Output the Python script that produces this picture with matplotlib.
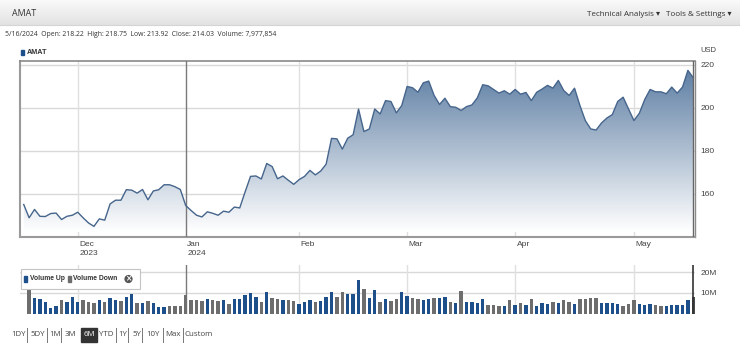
import matplotlib
matplotlib.use('Agg')

import numpy as np
import matplotlib.pyplot as plt
import matplotlib.transforms as mtrans
from matplotlib.colors import LinearSegmentedColormap
from matplotlib.patches import Rectangle, Circle

W, H = 740, 352

# one close per trading day, 11/16/2023 .. 5/16/2024
close = [155.0, 148.8, 152.7, 149.5, 149.4, 150.8, 151.0, 148.0, 149.5, 150.0,
         151.4, 148.8, 146.4, 144.8, 148.3, 147.7, 155.3, 157.0, 157.0, 161.9,
         161.7, 160.3, 162.0, 157.2, 161.3, 161.9, 164.2, 164.2, 163.3, 162.0,
         154.5, 152.2, 150.0, 149.2, 151.6, 150.9, 150.0, 151.9, 151.4, 153.8,
         153.4, 160.9, 168.1, 168.3, 166.9, 174.1, 172.7, 167.0, 168.3, 166.3,
         164.4, 166.6, 168.1, 170.9, 168.8, 170.6, 173.8, 185.8, 185.6, 180.8,
         185.9, 187.5, 199.5, 189.0, 190.2, 199.5, 197.2, 203.4, 203.0, 197.7,
         201.1, 210.0, 209.4, 207.3, 211.7, 212.5, 205.8, 201.6, 204.5, 200.6,
         200.3, 198.8, 200.6, 201.4, 204.7, 210.8, 210.3, 208.6, 206.9, 208.0,
         206.4, 208.6, 206.4, 207.2, 203.4, 207.3, 208.8, 210.5, 209.2, 212.8,
         208.1, 205.8, 209.2, 201.1, 194.1, 190.2, 189.7, 193.0, 195.3, 196.9,
         203.0, 205.0, 199.5, 194.1, 197.5, 203.9, 208.6, 207.5, 207.5, 206.6,
         209.7, 206.9, 209.7, 217.5, 214.0]

# volume in millions, from the 2nd trading day on (first bar not drawn)
volume = [11.8, 7.4, 6.9, 5.7, 2.5, 3.8, 6.6, 5.4, 7.9, 5.4,
          6.6, 5.7, 5.2, 6.4, 5.7, 7.7, 6.4, 6.2, 7.9, 9.2,
          5.2, 5.2, 6.2, 4.9, 3.0, 3.0, 3.8, 3.6, 3.4, 9.0,
          6.7, 6.6, 6.2, 7.2, 6.6, 6.1, 6.4, 4.8, 7.0, 7.2,
          9.0, 9.8, 8.0, 5.7, 10.3, 7.7, 7.2, 6.6, 6.4, 6.2,
          4.8, 5.4, 6.6, 5.6, 5.9, 7.9, 10.3, 7.9, 10.3, 9.5,
          9.2, 16.4, 11.8, 7.7, 11.1, 5.7, 6.9, 5.9, 6.9, 10.3,
          8.5, 7.7, 6.9, 6.4, 7.0, 7.7, 7.4, 8.0, 5.7, 5.2,
          10.7, 5.7, 5.4, 4.9, 6.9, 4.1, 4.1, 3.6, 3.6, 6.6,
          4.1, 4.9, 3.9, 6.9, 3.8, 4.9, 4.6, 5.4, 5.2, 6.6,
          5.4, 4.4, 6.9, 6.9, 7.4, 7.7, 5.2, 5.2, 4.9, 4.6,
          3.6, 4.8, 6.6, 4.4, 4.3, 4.4, 3.9, 3.8, 3.4, 4.1,
          4.1, 3.9, 6.6, 8.0]
# u = volume up, d = volume down
updown = ("duuuuuduuu" "ddduduuduu" "duduuudddd" "dddudduduu"
          "uuududdudd" "uuuduuuddu" "uuduududdu" "udduuduudu"
          "duuuudddud" "ududuuudud" "dudddduuuu" "ddduuudduu" "uuud")

month_idx = [10, 30, 51, 71, 91, 113]
month_lbl = ['Dec\n2023', 'Jan\n2024', 'Feb', 'Mar', 'Apr', 'May']
price_ticks = [160, 180, 200, 220]
vol_ticks = [10, 20]
vol_tick_lbl = ['10M', '20M']
ranges = ['1DY', '5DY', '1M', '3M', '6M', 'YTD', '1Y', '5Y', '10Y', 'Max', 'Custom']
range_x = [18.3, 37.5, 54.8, 70.5, 89.0, 106.3, 122.3, 136.7, 153.3, 172.5, 199.0]
range_sep = [26.7, 47.3, 61.0, 115.7, 128.3, 142.3, 162.7, 183.0]

info = ('5/16/2024  Open: 218.22  High: 218.75  Low: 213.92  '
        'Close: 214.03  Volume: 7,977,854')

UI = ['Open Sans', 'DejaVu Sans']
CH = ['Liberation Sans Narrow', 'Liberation Sans']
BLUE = '#1d4f8a'
GRAY = '#6d6d6d'


def frac(x0, y0, x1, y1):
    return [x0 / W, 1 - y1 / H, (x1 - x0) / W, (y1 - y0) / H]


fig = plt.figure(figsize=(W / 100, H / 100), dpi=100)
fig.patch.set_facecolor('white')

idx = np.arange(len(close))
xlim = (-0.69, 124.31)

# ---- price panel
ax = fig.add_axes(frac(20, 60.7, 695, 236.7))
ax.set_xlim(*xlim)
ax.set_ylim(140, 222)
for v in price_ticks:
    ax.axhline(v, color='#d9d9d9', lw=1, zorder=0)
for m in month_idx:
    if m == 30:
        ax.axvline(m, color='#7a7a7a', lw=1, zorder=3)
    else:
        ax.axvline(m, color='#e0e0e0', lw=1, zorder=0)

poly = ax.fill_between(idx, close, 140, color='none', lw=0)
cmap = LinearSegmentedColormap.from_list('fill', ['#ffffff', '#56789f'])
grad = np.linspace(0, 1, 256).reshape(-1, 1)
img = ax.imshow(grad, extent=[xlim[0], xlim[1], 142, 222], origin='lower',
                aspect='auto', cmap=cmap, zorder=1)
img.set_clip_path(poly.get_paths()[0], transform=ax.transData)
ax.plot(idx, close, color='#46658c', lw=1.0, zorder=4)
ax.axvline(idx[-1], color='#666666', lw=1, zorder=5)

for side, c, w in [('top', '#8a8a8a', 1.2), ('left', '#9a9a9a', 1.5),
                   ('bottom', '#9a9a9a', 1.5), ('right', '#8a8a8a', 1.0)]:
    ax.spines[side].set_color(c)
    ax.spines[side].set_linewidth(w)

ax.yaxis.tick_right()
ax.set_yticks(price_ticks)
ax.tick_params(axis='y', length=0, pad=4, labelsize=6, labelcolor='#444444')
ax.set_xticks(month_idx)
ax.set_xticklabels(month_lbl)
ax.tick_params(axis='x', length=0, pad=2.8, labelsize=6, labelcolor='#444444')
shift = mtrans.ScaledTranslation(1.5 / 100, 0, fig.dpi_scale_trans)
for lab in ax.get_xticklabels():
    lab.set_ha('left')
    lab.set_linespacing(1.45)
    lab.set_family(CH)
    lab.set_transform(lab.get_transform() + shift)
for lab in ax.get_yticklabels():
    lab.set_family(CH)

# ---- volume panel
vax = fig.add_axes(frac(20, 265, 695, 313.5))
vax.set_xlim(*xlim)
vax.set_ylim(0, 23.4)
for v in vol_ticks:
    vax.axhline(v, color='#d9d9d9', lw=1, zorder=0)
for m in month_idx:
    vax.axvline(m, color='#7a7a7a' if m == 30 else '#e0e0e0', lw=1, zorder=0)
vcol = [BLUE if c == 'u' else GRAY for c in updown]
vcol[-1] = '#4a4a4a'
vax.bar(idx[1:], volume, width=0.65, color=vcol, zorder=2)
vax.axvline(idx[-1], color='#333333', lw=1.2, zorder=3)
for s in vax.spines.values():
    s.set_visible(False)
vax.yaxis.tick_right()
vax.set_yticks(vol_ticks)
vax.set_yticklabels(vol_tick_lbl)
vax.set_xticks([])
vax.tick_params(axis='y', length=0, pad=4, labelsize=6, labelcolor='#444444')
for lab in vax.get_yticklabels():
    lab.set_family(CH)

# ---- page chrome in pixel coordinates
ov = fig.add_axes([0, 0, 1, 1], zorder=10)
ov.set_xlim(0, W)
ov.set_ylim(H, 0)
ov.axis('off')
ov.patch.set_alpha(0)

hgrad = np.linspace(0, 1, 64).reshape(-1, 1)
hmap = LinearSegmentedColormap.from_list('hdr', ['#fafafa', '#e2e2e2'])
ov.imshow(hgrad, extent=[0, W, 25, 0], aspect='auto', cmap=hmap, origin='upper')
ov.plot([0, W], [25, 25], color='#d4d4d4', lw=0.8)
ov.set_xlim(0, W)
ov.set_ylim(H, 0)

ov.text(12, 14, 'AMAT', fontsize=6.4, family=UI, va='center', color='#333333')
ov.text(587, 15, 'Technical Analysis \u25be', fontsize=5.8, family=UI,
        va='center', color='#333333')
ov.text(666, 15, 'Tools & Settings \u25be', fontsize=5.8, family=UI,
        va='center', color='#333333')
ov.text(5, 35, info, fontsize=4.95, family=UI, va='center', color='#333333')

ov.add_patch(Rectangle((20.7, 49.6), 3.3, 5.2, color=BLUE))
ov.text(27, 52.3, 'AMAT', fontsize=5.2, family=CH, weight='bold',
        va='center', color='#333333')
ov.text(700, 51, 'USD', fontsize=5.5, family=CH, va='center', color='#444444')

# volume legend box
ov.add_patch(Rectangle((20.5, 269), 119, 19.5, fc='white', ec='#c4c4c4', lw=0.8))
ov.add_patch(Rectangle((24, 276.3), 3.3, 5.2, color=BLUE))
ov.text(29.5, 279, 'Volume Up', fontsize=4.9, family=CH, weight='bold',
        va='center', color='#333333')
ov.add_patch(Rectangle((67.5, 276.3), 3.3, 5.2, color=GRAY))
ov.text(73, 279, 'Volume Down', fontsize=4.9, family=CH, weight='bold',
        va='center', color='#333333')
ov.add_patch(Circle((128.5, 279), 3.4, color='#555555'))
ov.text(128.5, 279, '\u00d7', fontsize=5.5, color='white', ha='center',
        va='center', weight='bold', family='DejaVu Sans')

# range buttons
for lbl, x in zip(ranges, range_x):
    if lbl == '6M':
        ov.add_patch(Rectangle((80.7, 327.7), 16.6, 14.6, color='#333333'))
        ov.text(x, 334.5, lbl, fontsize=5.7, family=UI, ha='center',
                va='center', color='white')
    else:
        ov.text(x, 334.5, lbl, fontsize=5.7, family=UI, ha='center',
                va='center', color='#444444')
for x in range_sep:
    ov.plot([x, x], [328, 341.5], color='#777777', lw=0.7)

fig.savefig('out.png', dpi=100)
